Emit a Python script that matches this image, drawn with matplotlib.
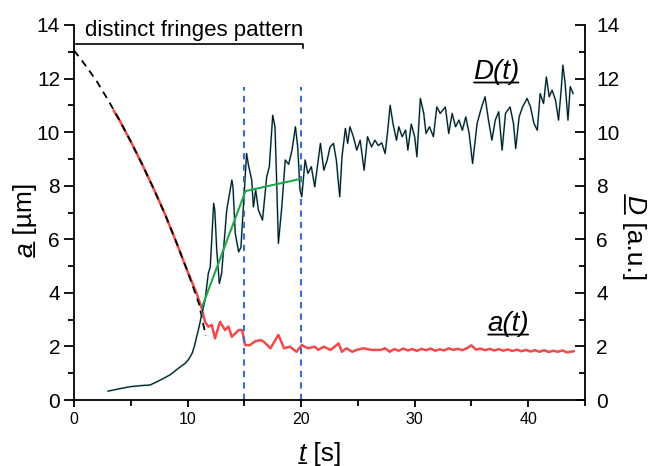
import matplotlib.pyplot as plt
import numpy as np

plt.rcParams['font.family'] = ['Liberation Sans', 'DejaVu Sans']

# dashed fit of a(t)
fit_t = [0, 1, 2, 3, 4, 5, 6, 7, 8, 9, 10, 11, 11.6]
fit_a = [13.05, 12.5, 11.9, 11.2, 10.45, 9.65, 8.8, 7.9, 6.95, 5.9, 4.8, 3.6, 2.4]

# measured a(t), red
a_t = [3.5, 4, 5, 6, 7, 8, 9, 10, 10.8, 11.25, 11.54, 11.83, 12.13, 12.42, 12.86,
       13.3, 13.6, 13.9, 14.5, 14.8, 15.07, 15.5, 15.9, 16.4, 16.7, 17.3, 18.0,
       18.5, 19.0, 19.6, 20.06, 20.6, 21.2, 21.5, 22.0, 22.6, 23.3, 23.6, 24.0,
       24.5, 24.9, 25.5, 26.2, 27.0, 27.4, 27.8, 28.2, 28.6, 29.0, 29.4, 29.8,
       30.2, 30.6, 31.0, 31.4, 31.8, 32.2, 32.6, 33.0, 33.4, 33.8, 34.2, 34.6,
       35.0, 35.4, 35.8, 36.2, 36.6, 37.0, 37.4, 37.8, 38.2, 38.6, 39.0, 39.4,
       39.8, 40.2, 40.6, 41.0, 41.4, 41.8, 42.2, 42.6, 43.0, 43.4, 44.0]
a_v = [10.8, 10.45, 9.65, 8.8, 7.9, 6.95, 5.9, 4.8, 3.98, 3.42, 2.92, 2.74, 2.8, 2.3, 2.92,
       2.61, 2.74, 2.36, 2.61, 2.61, 2.05, 2.05, 2.18, 2.24, 2.18, 1.93, 2.43,
       1.93, 1.99, 1.80, 2.05, 1.93, 1.99, 1.87, 1.99, 1.87, 2.11, 1.80, 1.93,
       1.80, 1.87, 1.93, 1.87, 1.87, 1.93, 1.80, 1.90, 1.84, 1.92, 1.85, 1.90,
       1.83, 1.91, 1.86, 1.92, 1.84, 1.89, 1.85, 1.93, 1.87, 1.91, 1.86, 1.93,
       2.04, 1.88, 1.92, 1.86, 1.91, 1.85, 1.90, 1.84, 1.89, 1.83, 1.88, 1.82,
       1.87, 1.81, 1.86, 1.80, 1.86, 1.79, 1.84, 1.80, 1.85, 1.78, 1.82]

# D(t), black
D_t = [3.0, 4.0, 5.0, 6.0, 6.7, 7.3, 7.9, 8.5, 9.0, 9.4, 9.8, 10.1, 10.4, 10.6, 10.8, 11.0,
       11.3, 11.54, 11.83, 12.0, 12.3, 12.4, 12.57, 12.8, 13.0, 13.45, 13.9, 14.0, 14.2,
       14.5, 14.7, 14.9, 15.2, 15.35, 15.65, 15.8, 16.0, 16.24, 16.6, 16.97, 17.2, 17.5,
       17.7, 17.86, 18.0, 18.3, 18.6, 18.9, 19.2, 19.5, 19.7, 19.9, 20.06, 20.35, 20.6,
       20.9, 21.2, 21.7, 22.0, 22.3, 22.55, 22.85, 23.1, 23.4, 23.6, 23.9, 24.1, 24.3,
       24.6, 24.9, 25.2, 25.55, 25.85, 26.2, 26.5, 26.8, 27.1, 27.4, 27.6, 27.84, 28.1,
       28.4, 28.6, 28.9, 29.2, 29.4, 29.7, 30.0, 30.2, 30.5, 30.8, 31.0, 31.3, 31.65,
       31.95, 32.25, 32.7, 33.0, 33.3, 33.6, 33.9, 34.2, 34.5, 34.8, 35.1, 35.5, 35.9,
       36.2, 36.5, 36.8, 37.1, 37.4, 37.7, 38.0, 38.4, 38.7, 38.9, 39.2, 39.5, 39.9,
       40.2, 40.5, 40.8, 41.05, 41.35, 41.6, 41.85, 42.1, 42.4, 42.67, 42.9, 43.05,
       43.25, 43.5, 43.7, 43.95]
D_v = [0.33, 0.42, 0.5, 0.54, 0.56, 0.68, 0.81, 0.95, 1.12, 1.25, 1.37, 1.52, 1.74, 2.0, 2.36, 2.7,
       3.3, 3.73, 4.73, 4.97, 7.34, 7.09, 5.6, 4.35, 4.73, 7.09, 8.21, 7.96, 6.22,
       5.53, 5.7, 7.09, 9.2, 8.8, 8.21, 7.21, 7.84, 7.09, 6.72, 8.33, 8.71, 10.63,
       10.2, 7.96, 5.85, 7.21, 8.96, 8.8, 9.33, 10.2, 9.45, 7.84, 7.59, 8.96, 8.46,
       8.71, 7.96, 9.58, 8.58, 8.96, 9.45, 9.58, 8.96, 7.59, 9.08, 10.14, 9.58, 10.2,
       9.83, 9.33, 9.7, 8.58, 9.83, 9.45, 9.7, 9.5, 9.6, 9.2, 9.95, 11.0, 10.3,
       9.7, 10.2, 9.83, 10.08, 9.33, 10.3, 9.83, 9.08, 11.26, 10.7, 9.95, 10.2, 9.83,
       10.94, 10.7, 10.94, 9.95, 10.7, 10.2, 10.45, 10.07, 10.57, 9.95, 8.83, 10.33, 10.94,
       11.32, 10.45, 9.7, 10.45, 10.76, 9.33, 10.7, 10.94, 10.33, 9.39, 10.57, 10.94, 11.26,
       10.94, 10.33, 10.07, 11.44, 11.07, 12.06, 11.32, 11.57, 11.2, 10.45, 11.57, 12.5,
       11.82, 10.45, 11.7, 11.44]

# green segments
green_t = [11.3, 15.1, 19.9]
green_v = [3.5, 7.8, 8.25]

marks_t = [15, 20]
fringe_span = [0.2, 20.2]

fig = plt.figure(figsize=(6.51, 4.66), dpi=100)
ax = fig.add_axes([74/651, 66/466, 511/651, 375/466])
ax2 = ax.twinx()

ax.plot(a_t, a_v, color='#f24a4a', lw=1.8, zorder=2)
ax.plot(fit_t, fit_a, color='black', lw=1.3, ls=(0, (4, 3)), zorder=3)
ax2.plot(D_t, D_v, color='#7cc6d2', lw=1.4, zorder=2)
ax2.plot(D_t, D_v, color='#111111', lw=0.8, zorder=3)
ax2.plot(green_t, green_v, color='#1ea84a', lw=1.5, zorder=4)
ax.vlines(marks_t, 0, 11.7, colors='#3a6ed6', linestyles=(0, (3, 2.5)), lw=1.5)

# bracket for the fringes pattern interval
ax.plot([fringe_span[0], fringe_span[1], fringe_span[1]], [13.28, 13.28, 13.13],
        color='black', lw=1.2, clip_on=False)
ax.text(0.95, 13.58, 'distinct fringes pattern', fontsize=16, va='baseline')

for a in (ax, ax2):
    a.set_xlim(0, 45)
    a.set_ylim(0, 14)
    a.spines['top'].set_visible(False)
    for s in a.spines.values():
        s.set_linewidth(1.3)
ax.spines['right'].set_visible(False)
ax2.spines['left'].set_visible(False)
ax2.spines['bottom'].set_visible(False)

ax.set_xticks([0, 10, 20, 30, 40])
ax.set_xticks([5, 15, 25, 35, 45], minor=True)
ax.set_yticks(range(0, 15, 2))
ax.set_yticks(range(1, 14, 2), minor=True)
ax2.set_yticks(range(0, 15, 2))
ax2.set_yticks(range(1, 14, 2), minor=True)

ax.tick_params(axis='x', which='major', direction='out', length=5, width=1.3, labelsize=11.5, pad=4)
ax.tick_params(axis='x', which='minor', direction='out', length=4, width=1.3)
ax.tick_params(axis='y', which='major', direction='out', length=7, width=1.3, labelsize=15, pad=3)
ax.tick_params(axis='y', which='minor', direction='out', length=4, width=1.3)
ax2.tick_params(axis='y', which='major', direction='in', length=7, width=1.3, labelsize=15, pad=8)
ax2.tick_params(axis='y', which='minor', direction='in', length=4, width=1.3)


def underline(txt, frac_a, frac_b, pos, vertical=False):
    if vertical:
        p0, p1 = (pos, frac_a), (pos, frac_b)
    else:
        p0, p1 = (frac_a, pos), (frac_b, pos)
    ax.annotate('', xy=p0, xycoords=txt, xytext=p1, textcoords=txt,
                arrowprops=dict(arrowstyle='-', lw=1.3, color='black', shrinkA=0, shrinkB=0))


# curve labels
d_lab = ax.text(35.15, 11.98, 'D(t)', fontsize=20, style='italic', va='baseline')
underline(d_lab, 0.02, 0.98, 0.1)
a_lab = ax.text(36.4, 2.57, 'a(t)', fontsize=20, style='italic', va='baseline')
underline(a_lab, 0.02, 0.98, 0.1)

# axis labels
t_lab = ax.annotate('t', xy=(299, 5), xycoords='figure pixels', fontsize=19,
                    style='italic', va='baseline', ha='left')
ax.annotate(' [s]', xy=(1, 0), xycoords=t_lab, fontsize=19, va='bottom', ha='left')
underline(t_lab, 0.0, 1.0, 0.12)

al = ax.annotate('a', xy=(25, 209), xycoords='figure pixels', fontsize=19,
                 style='italic', rotation=90, ha='center', va='bottom')
ax.annotate(' [µm]', xy=(0.5, 1), xycoords=al, fontsize=19, rotation=90,
            ha='center', va='bottom')
underline(al, 0.0, 1.0, 0.88, vertical=True)

dl = ax.annotate('D', xy=(634, 271), xycoords='figure pixels', fontsize=19,
                 style='italic', rotation=270, ha='center', va='top')
ax.annotate(' [a.u.]', xy=(0.5, 0), xycoords=dl, fontsize=19, rotation=270,
            ha='center', va='top')
underline(dl, 0.0, 1.0, 0.12, vertical=True)

fig.savefig('out.png', dpi=100)
